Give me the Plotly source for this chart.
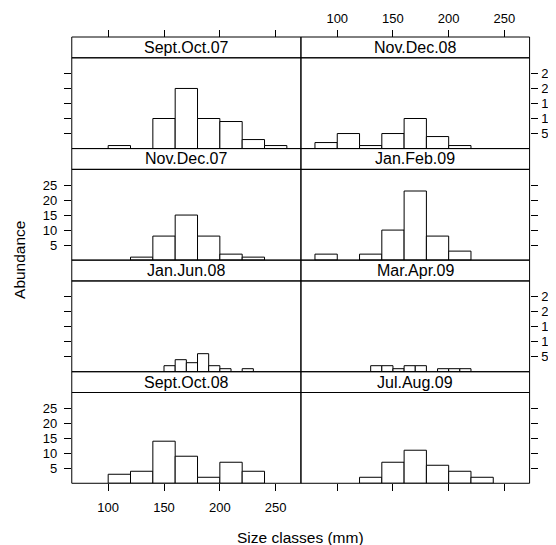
import plotly.graph_objects as go

# ---------------- data ----------------
panel_names = ["Sept.Oct.07", "Nov.Dec.08",
               "Nov.Dec.07", "Jan.Feb.09",
               "Jan.Jun.08", "Mar.Apr.09",
               "Sept.Oct.08", "Jul.Aug.09"]

# bin start (mm), bin width (mm), counts per bin
sept_oct_07_start, sept_oct_07_width = 100, 20
sept_oct_07_counts = [1, 0, 10, 20, 10, 9, 3, 1]

nov_dec_08_start, nov_dec_08_width = 80, 20
nov_dec_08_counts = [2, 5, 1, 5, 10, 4, 1]

nov_dec_07_start, nov_dec_07_width = 120, 20
nov_dec_07_counts = [1, 8, 15, 8, 2, 1]

jan_feb_09_start, jan_feb_09_width = 80, 20
jan_feb_09_counts = [2, 0, 2, 10, 23, 8, 3]

jan_jun_08_start, jan_jun_08_width = 150, 10
jan_jun_08_counts = [2, 4, 3, 6, 2, 1, 0, 1]

mar_apr_09_start, mar_apr_09_width = 130, 10
mar_apr_09_counts = [2, 2, 1, 2, 2, 0, 1, 1, 1]

sept_oct_08_start, sept_oct_08_width = 100, 20
sept_oct_08_counts = [3, 4, 14, 9, 2, 7, 4]

jul_aug_09_start, jul_aug_09_width = 120, 20
jul_aug_09_counts = [2, 7, 11, 6, 4, 2]

x_ticks = [100, 150, 200, 250]
y_ticks = [5, 10, 15, 20, 25]
x_title = "Size classes (mm)"
y_title = "Abundance"

panels = [
    (sept_oct_07_start, sept_oct_07_width, sept_oct_07_counts),
    (nov_dec_08_start, nov_dec_08_width, nov_dec_08_counts),
    (nov_dec_07_start, nov_dec_07_width, nov_dec_07_counts),
    (jan_feb_09_start, jan_feb_09_width, jan_feb_09_counts),
    (jan_jun_08_start, jan_jun_08_width, jan_jun_08_counts),
    (mar_apr_09_start, mar_apr_09_width, mar_apr_09_counts),
    (sept_oct_08_start, sept_oct_08_width, sept_oct_08_counts),
    (jul_aug_09_start, jul_aug_09_width, jul_aug_09_counts),
]

# ---------------- layout geometry (window pixels) ----------------
OFF = 8  # default page body margin
W, H = 556 - OFF, 545 - OFF
col_x = [(72, 302), (302, 531.5)]
top = 37.0
row_h = 111.57
strip_h = 20.8
x_range = [67.4, 272.6]
y_range = [0, 30.2]
FONT = "Liberation Sans, Arial, sans-serif"

def px(x):
    return (x - OFF) / W

def py(y):
    return 1 - (y - OFF) / H

fig = go.Figure()
layout = dict(
    width=W, height=H,
    margin=dict(l=0, r=0, t=0, b=0),
    paper_bgcolor="white", plot_bgcolor="white",
    showlegend=False,
    font=dict(family=FONT, size=13, color="black"),
    shapes=[], annotations=[],
)

for i, (start, w, counts) in enumerate(panels):
    row, col = divmod(i, 2)
    n = i + 1
    xs = [start + w * (k + 0.5) for k in range(len(counts))]
    xv = [x for x, c in zip(xs, counts) if c > 0]
    cv = [c for c in counts if c > 0]
    fig.add_trace(go.Bar(
        x=xv, y=cv, width=[w] * len(cv),
        marker=dict(color="white", line=dict(color="black", width=1)),
        xaxis=f"x{n}", yaxis=f"y{n}", hoverinfo="x+y",
    ))

    x0, x1 = col_x[col]
    strip_top = top + row * row_h
    strip_bot = strip_top + strip_h
    panel_bot = top + (row + 1) * row_h

    xa = dict(domain=[px(x0), px(x1)], range=x_range, showgrid=False,
              zeroline=False, showline=False, tickvals=x_ticks,
              ticks="", showticklabels=False, fixedrange=True,
              tickfont=dict(size=13, family=FONT, color="black"))
    if row == 0:
        xa.update(anchor="free", side="top", position=py(strip_top),
                  ticks="outside", ticklen=7, tickcolor="black", tickwidth=1,
                  ticklabelstandoff=2,
                  showticklabels=(col == 1))
    elif row == 3:
        xa.update(anchor=f"y{n}", side="bottom", ticks="outside", ticklen=7,
                  tickcolor="black", tickwidth=1, ticklabelstandoff=5,
                  showticklabels=(col == 0))
    else:
        xa.update(anchor=f"y{n}")
    ya = dict(domain=[py(panel_bot), py(strip_bot)], range=y_range,
              showgrid=False, zeroline=False, showline=False,
              tickvals=y_ticks, anchor=f"x{n}", ticks="outside", ticklen=7,
              tickcolor="black", tickwidth=1, fixedrange=True,
              side="left" if col == 0 else "right",
              ticklabelstandoff=4 if col == 0 else 1,
              tickfont=dict(size=13, family=FONT, color="black"))
    if col == 0:
        ya["showticklabels"] = (row % 2 == 1)
    else:
        ya["showticklabels"] = (row % 2 == 0)
    layout[f"xaxis{n}" if n > 1 else "xaxis"] = xa
    layout[f"yaxis{n}" if n > 1 else "yaxis"] = ya

    # strip and panel borders
    layout["shapes"].append(dict(type="rect", xref="paper", yref="paper",
                                 x0=px(x0), x1=px(x1), y0=py(strip_bot), y1=py(strip_top),
                                 line=dict(color="black", width=1), fillcolor="rgba(0,0,0,0)"))
    layout["shapes"].append(dict(type="rect", xref="paper", yref="paper",
                                 x0=px(x0), x1=px(x1), y0=py(panel_bot), y1=py(strip_bot),
                                 line=dict(color="black", width=1), fillcolor="rgba(0,0,0,0)"))
    layout["annotations"].append(dict(
        text=panel_names[i], xref="paper", yref="paper",
        x=px((x0 + x1) / 2), y=py((strip_top + strip_bot) / 2),
        xanchor="center", yanchor="middle", showarrow=False,
        font=dict(size=16, family=FONT, color="black")))

layout["annotations"].append(dict(
    text=x_title, xref="paper", yref="paper", x=px(302), y=py(537),
    xanchor="center", yanchor="middle", showarrow=False,
    font=dict(size=15.5, family=FONT, color="black")))
layout["annotations"].append(dict(
    text=y_title, xref="paper", yref="paper", x=px(20), y=py(260),
    xanchor="center", yanchor="middle", showarrow=False, textangle=-90,
    font=dict(size=15.5, family=FONT, color="black")))

fig.update_layout(**layout)
fig.write_html("out.html")
